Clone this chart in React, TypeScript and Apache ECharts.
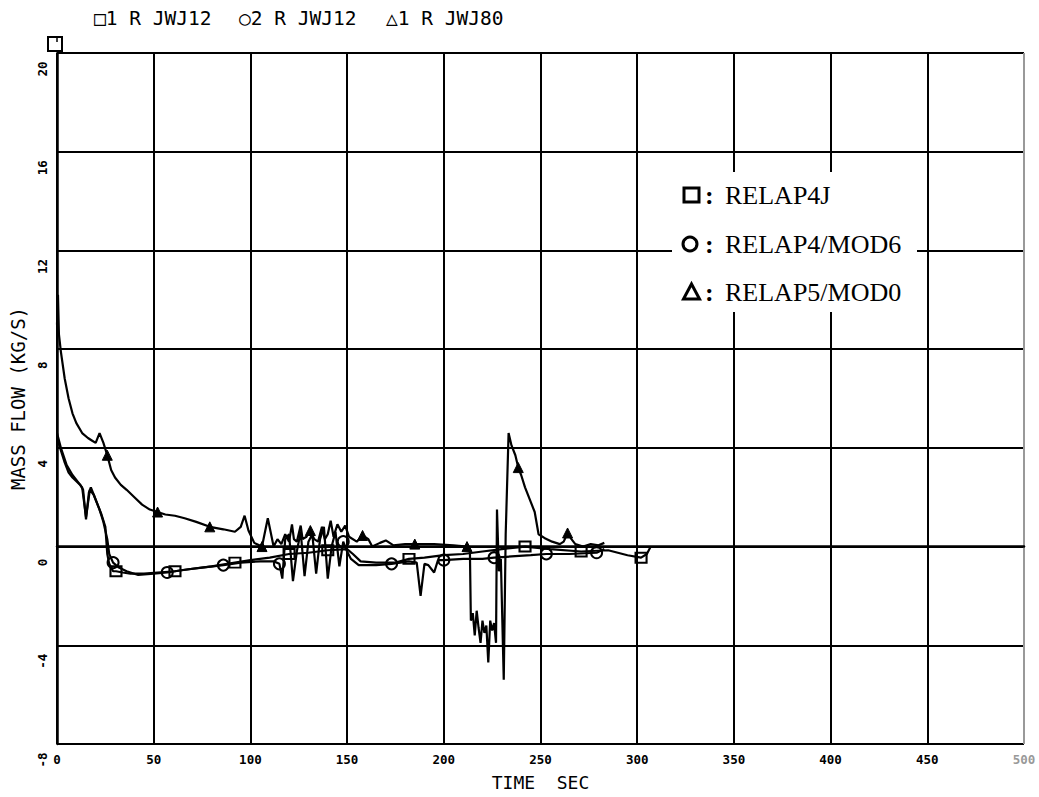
import React, { useEffect, useRef } from "react";
import * as echarts from "echarts";

// Axis ticks
const X_TICKS = [0, 50, 100, 150, 200, 250, 300, 350, 400, 450, 500];
const Y_TICKS = [-8, -4, 0, 4, 8, 12, 16, 20];

// Header / legend labels
const HEADER = ["\u25A11 R JWJ12", "\u25CB2 R JWJ12", "\u25B31 R JWJ80"];
const LEGEND = ["RELAP4J", "RELAP4/MOD6", "RELAP5/MOD0"];

// RELAP4J (squares)
const T_SQ = [0, 2, 4, 6, 8, 10, 12, 13.5, 15, 16.5, 17.5, 19, 21, 23, 25, 26, 27, 29, 30.5, 34, 38, 45, 52, 61, 70, 80, 92, 100, 110, 120, 130, 140, 150, 153, 157, 165, 175, 182, 190, 200, 210, 220, 230, 242, 255, 271, 285, 295, 302, 305, 307];
const V_SQ = [4.4, 3.9, 3.4, 3.0, 2.8, 2.65, 2.5, 2.3, 1.1, 2.2, 2.4, 2.1, 1.7, 1.3, 0.8, -0.3, -0.7, -1.0, -1.0, -1.05, -1.1, -1.1, -1.05, -1.0, -0.9, -0.8, -0.65, -0.55, -0.45, -0.3, -0.25, -0.15, -0.1, -0.3, -0.6, -0.65, -0.65, -0.5, -0.45, -0.35, -0.3, -0.2, -0.1, 0.0, -0.1, -0.2, -0.15, -0.35, -0.45, -0.3, 0.0];
const M_SQ = [30.5, 61, 92, 120, 140, 182, 242, 271, 302];

// RELAP4/MOD6 (circles)
const T_CI = [0, 2, 5, 8, 11, 13, 15, 17, 19, 22, 24, 26, 27, 29, 32, 36, 42, 50, 57, 65, 75, 86, 95, 105, 112, 115, 116.5, 118, 120, 122, 124, 126, 128, 130, 132, 134, 136, 138, 140, 142, 144, 146, 148, 150, 152, 156, 165, 173, 182, 186, 188, 190, 192, 195, 197, 200, 210, 220, 226, 235, 245, 253, 265, 279, 283];
const V_CI = [4.6, 4.0, 3.3, 2.9, 2.6, 2.4, 1.2, 2.3, 2.1, 1.5, 1.0, 0.3, -0.3, -0.65, -0.85, -1.0, -1.15, -1.1, -1.05, -0.95, -0.85, -0.75, -0.65, -0.6, -0.6, -0.7, -1.3, 0.3, 0.5, -1.4, -0.2, 0.6, -1.2, 0.2, 0.5, -1.1, 0.3, 0.8, -1.3, 0.0, 0.6, -0.8, 0.2, -0.2, -0.5, -0.75, -0.75, -0.7, -0.6, -0.65, -2.0, -0.7, -0.75, -1.05, -0.55, -0.55, -0.5, -0.5, -0.45, -0.4, -0.35, -0.3, -0.3, -0.25, -0.1];
const M_CI = [29, 57, 86, 115, 148, 173, 200, 226, 253, 279];

// RELAP5/MOD0 (triangles)
const T_TR = [0, 0.5, 1, 2, 4, 6, 8, 10, 13, 16, 18, 20, 22, 24, 26, 28, 30, 33, 36, 40, 44, 48, 52, 56, 61, 66, 72, 79, 86, 92, 95, 97, 99, 102, 106, 109, 112, 114, 116, 118, 120, 121.5, 122.5, 124, 126, 127, 129, 131, 133, 135, 137, 138.5, 140, 141.5, 143, 145, 147, 149, 151, 155, 158, 161, 163, 167, 170, 174, 180, 185, 195, 205, 212, 213.5, 214, 215, 216, 217, 218, 219, 220, 221, 222, 223, 224, 225, 226, 227, 227.5, 228.5, 229.5, 231, 232, 233.5, 235, 237, 238.5, 240, 242, 245, 247, 249, 252, 256, 260, 262, 264, 266, 268, 272, 276, 280, 283];
const V_TR = [9.0, 10.2, 8.6, 7.9, 6.8, 6.0, 5.4, 5.0, 4.6, 4.4, 4.3, 4.2, 4.6, 4.2, 3.7, 3.1, 2.8, 2.5, 2.3, 2.0, 1.7, 1.5, 1.4, 1.3, 1.25, 1.15, 1.0, 0.8, 0.7, 0.6, 0.8, 1.25, 0.65, 0.15, 0.0, 1.15, 0.0, 0.3, 0.1, 0.5, 0.2, 0.9, 0.3, 0.2, 0.85, 0.3, 0.4, 0.65, 0.3, 0.2, 0.8, 0.3, 0.5, 1.05, 0.4, 0.9, 0.6, 0.85, 0.4, 0.2, 0.45, 0.3, 0.0, 0.15, 0.25, 0.05, 0.1, 0.1, 0.1, 0.05, 0.0, -0.2, -3.0, -2.7, -3.6, -2.6, -3.3, -3.9, -3.0, -3.5, -3.2, -4.7, -3.0, -3.4, -3.1, -3.9, 1.5, -1.0, -0.5, -5.4, 0.5, 4.6, 4.1, 3.7, 3.2, 2.9, 2.4, 1.8, 1.4, 0.5, 0.35, 0.2, 0.1, 0.2, 0.55, 0.3, 0.1, 0.0, 0.1, 0.05, 0.15];
const M_TR = [26, 52, 79, 106, 131, 158, 185, 212, 238.5, 264];

const MONO = "DejaVu Sans Mono";
const SERIF = "Liberation Serif";

function build(ts: number[], vs: number[], marks: number[], symbol: string, size: number | number[]) {
  const set = new Set(marks);
  return ts.map((t, i) =>
    set.has(t)
      ? { value: [t, vs[i]], symbol, symbolSize: size }
      : { value: [t, vs[i]], symbol: "none" }
  );
}

export default function App() {
  const ref = useRef<HTMLDivElement>(null);

  useEffect(() => {
    const chart = echarts.init(ref.current!, null, { renderer: "svg" });
    const xColors = X_TICKS.map((t, i) => (i === X_TICKS.length - 1 ? "#999" : "#000"));

    const lineBase = {
      type: "line" as const,
      showSymbol: true,
      showAllSymbol: true,
      silent: true,
      lineStyle: { color: "#000", width: 2.2 },
      z: 5,
    };

    const headerFont = `19.5px "${MONO}"`;

    chart.setOption({
      animation: false,
      backgroundColor: "#fff",
      grid: { left: 54, top: 53, width: 970, height: 691, containLabel: false },
      xAxis: {
        type: "value",
        min: X_TICKS[0],
        max: X_TICKS[X_TICKS.length - 1],
        interval: X_TICKS[1] - X_TICKS[0],
        name: "TIME  SEC",
        nameLocation: "middle",
        nameGap: 29,
        nameTextStyle: { fontFamily: MONO, fontSize: 18, color: "#000" },
        axisLine: { show: true, lineStyle: { color: "#000", width: 2.5 } },
        axisTick: { show: false },
        axisLabel: {
          margin: 9,
          fontFamily: MONO,
          fontSize: 12.5,
          fontWeight: "bold",
          color: (v: any) => (Number(v) === X_TICKS[X_TICKS.length - 1] ? "#999" : "#000"),
        },
        splitLine: { show: true, lineStyle: { color: xColors, width: 2 } },
      },
      yAxis: {
        type: "value",
        min: Y_TICKS[0],
        max: Y_TICKS[Y_TICKS.length - 1],
        interval: Y_TICKS[1] - Y_TICKS[0],
        name: "MASS FLOW (KG/S)",
        nameLocation: "middle",
        nameGap: 30,
        nameRotate: 90,
        nameTextStyle: { fontFamily: MONO, fontSize: 19, color: "#000" },
        axisLine: { show: true, lineStyle: { color: "#000", width: 2.5 } },
        axisTick: { show: false },
        axisLabel: {
          rotate: 90,
          margin: 8,
          fontFamily: MONO,
          fontSize: 12.5,
          fontWeight: "bold",
          color: "#000",
          padding: [0, 32, 0, 0],
        },
        splitLine: { show: true, lineStyle: { color: "#000", width: 2 } },
      },
      series: [
        {
          ...lineBase,
          name: LEGEND[0],
          data: build(T_SQ, V_SQ, M_SQ, "rect", [11, 10]),
          itemStyle: { color: "rgba(0,0,0,0)", borderColor: "#000", borderWidth: 2 },
        },
        {
          ...lineBase,
          name: LEGEND[1],
          data: build(T_CI, V_CI, M_CI, "circle", 11),
          itemStyle: { color: "rgba(0,0,0,0)", borderColor: "#000", borderWidth: 2 },
        },
        {
          ...lineBase,
          name: LEGEND[2],
          data: build(T_TR, V_TR, M_TR, "triangle", 10),
          itemStyle: { color: "#000", borderColor: "#000", borderWidth: 1 },
        },
      ],
      graphic: [
        // header
        { type: "text", x: 94, y: 18, z: 100, style: { text: HEADER[0], font: headerFont, fill: "#000", verticalAlign: "middle" } },
        { type: "text", x: 239, y: 18, z: 100, style: { text: HEADER[1], font: headerFont, fill: "#000", verticalAlign: "middle" } },
        { type: "text", x: 386, y: 18, z: 100, style: { text: HEADER[2], font: headerFont, fill: "#000", verticalAlign: "middle" } },
        // top-left frame mark
        { type: "rect", z: 100, shape: { x: 48, y: 37, width: 14, height: 14 }, style: { fill: "#fff", stroke: "#000", lineWidth: 2 } },
        { type: "line", z: 101, shape: { x1: 57, y1: 37, x2: 57, y2: 42 }, style: { stroke: "#000", lineWidth: 1.5 } },
        // legend box
        { type: "rect", z: 100, shape: { x: 672, y: 172, width: 245, height: 140 }, style: { fill: "#fff" } },
        { type: "rect", z: 101, shape: { x: 684, y: 188, width: 15, height: 14 }, style: { fill: "none", stroke: "#000", lineWidth: 3 } },
        { type: "circle", z: 101, shape: { cx: 690, cy: 244, r: 7 }, style: { fill: "none", stroke: "#000", lineWidth: 3 } },
        { type: "polygon", z: 101, shape: { points: [[691.5, 284], [683.5, 299], [699.5, 299]] }, style: { fill: "none", stroke: "#000", lineWidth: 3 } },
        { type: "text", x: 705, y: 195, z: 101, style: { text: ":", font: `bold 26px "${SERIF}"`, fill: "#000", verticalAlign: "middle" } },
        { type: "text", x: 705, y: 244, z: 101, style: { text: ":", font: `bold 26px "${SERIF}"`, fill: "#000", verticalAlign: "middle" } },
        { type: "text", x: 705, y: 292, z: 101, style: { text: ":", font: `bold 26px "${SERIF}"`, fill: "#000", verticalAlign: "middle" } },
        { type: "text", x: 725, y: 195, z: 101, style: { text: LEGEND[0], font: `26px "${SERIF}"`, fill: "#000", verticalAlign: "middle" } },
        { type: "text", x: 725, y: 244, z: 101, style: { text: LEGEND[1], font: `26px "${SERIF}"`, fill: "#000", verticalAlign: "middle" } },
        { type: "text", x: 725, y: 292, z: 101, style: { text: LEGEND[2], font: `26px "${SERIF}"`, fill: "#000", verticalAlign: "middle" } },
      ],
    });
    return () => chart.dispose();
  }, []);

  return (
    <div
      ref={ref}
      style={{ position: "fixed", left: 0, top: 0, width: 1039, height: 797, background: "#fff" }}
    />
  );
}
